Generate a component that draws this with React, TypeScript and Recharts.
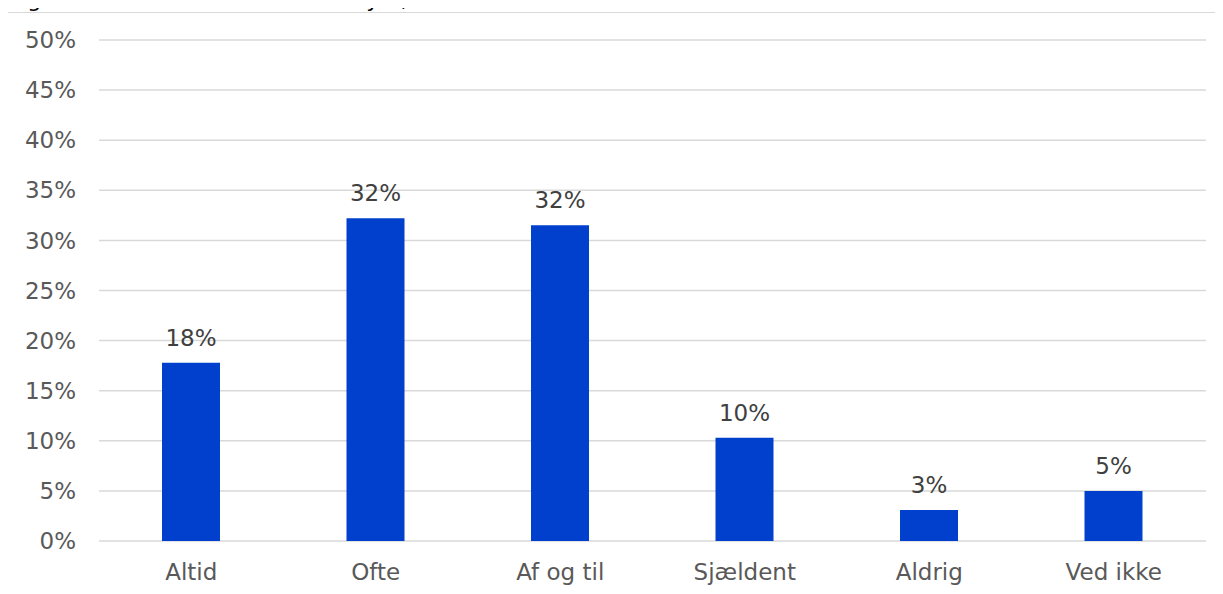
import { Bar, BarChart, CartesianGrid, LabelList, XAxis, YAxis } from "recharts"

// Figur 1: Ønsker du at være anonym, når du er online?
const title = "Figur 1: Ønsker du at være anonym, når du er online?"
const categories = ["Altid", "Ofte", "Af og til", "Sjældent", "Aldrig", "Ved ikke"]
const shares = [17.8, 32.2, 31.5, 10.3, 3.1, 5.0]
const labels = ["18%", "32%", "32%", "10%", "3%", "5%"]
const yTicks = [0, 5, 10, 15, 20, 25, 30, 35, 40, 45, 50]

const data = categories.map((name, i) => ({ name, value: shares[i], label: labels[i] }))

const font = "'DejaVu Sans', sans-serif"

export default function App() {
  return (
    <div style={{ position: "relative", margin: -8, width: 1223, height: 594, overflow: "hidden", background: "#fff" }}>
      <svg width={1223} height={20} style={{ position: "absolute", left: 0, top: 0 }}>
        <text x={10} y={6.5} fontFamily={font} fontSize={22} fill="#000">
          {title}
        </text>
      </svg>
      <div
        style={{
          position: "absolute",
          left: 7,
          top: 12,
          width: 1300,
          height: 700,
          border: "1.5px solid #d9d9d9",
          boxSizing: "border-box",
        }}
      />
      <div style={{ position: "absolute", left: 0, top: 0 }}>
        <BarChart
          width={1223}
          height={594}
          data={data}
          margin={{ top: 40, right: 17, bottom: 0, left: 19 }}
          barSize={58}
        >
          <CartesianGrid vertical={false} stroke="#d9d9d9" strokeWidth={1.5} />
          <XAxis
            dataKey="name"
            axisLine={false}
            tickLine={false}
            height={53}
            tickMargin={17}
            tick={{ fill: "#595959", fontSize: 23, fontFamily: font }}
            interval={0}
          />
          <YAxis
            domain={[0, 50]}
            ticks={yTicks}
            width={80}
            axisLine={false}
            tickLine={false}
            tickMargin={17}
            tickFormatter={(v) => `${v}%`}
            tick={{ fill: "#595959", fontSize: 23, fontFamily: font }}
          />
          <Bar dataKey="value" fill="#0040cc" isAnimationActive={false}>
            <LabelList
              dataKey="label"
              position="top"
              offset={17}
              fill="#404040"
              fontSize={23}
              fontFamily={font}
            />
          </Bar>
        </BarChart>
      </div>
    </div>
  )
}
